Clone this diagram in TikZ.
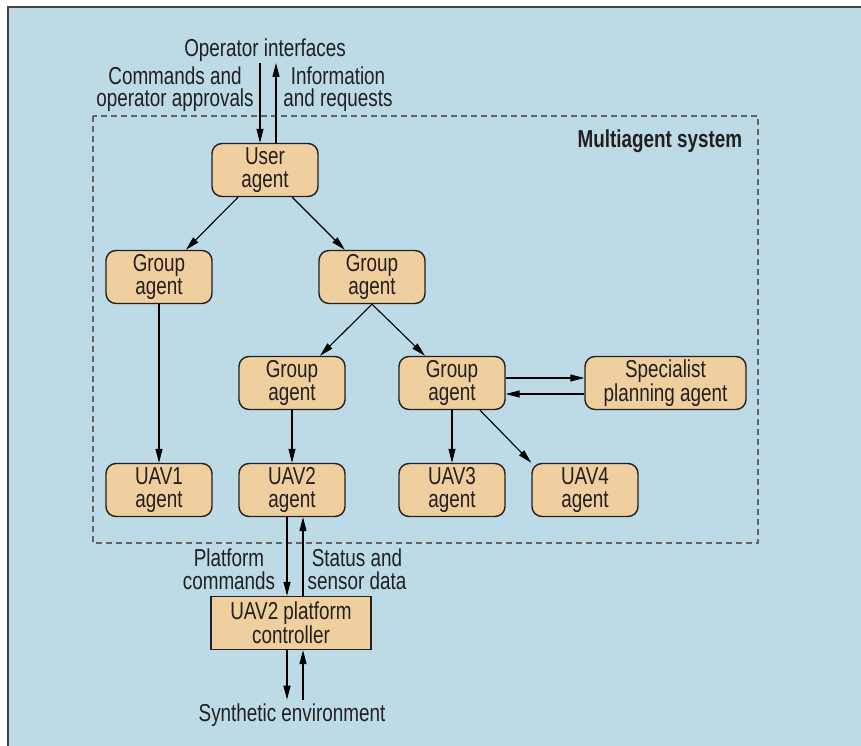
\documentclass[tikz,border=0pt]{standalone}
\usepackage{fontspec}
\setmainfont{Liberation Sans}[FakeStretch=0.77]
\usetikzlibrary{arrows.meta,calc}
\definecolor{panel}{HTML}{BDDBE7}
\definecolor{agentfill}{HTML}{F0CF9E}
\definecolor{ink}{HTML}{231F20}

\begin{document}
\begin{tikzpicture}[
    x = 1pt,
    y = -1pt,
    line width = 1.1pt,
    >={Triangle[length=14pt,width=7pt]},
    every node/.style = {
      text = ink,
      font = \fontsize{24.5}{22.5}\selectfont,
      align = center
    },
    agent/.style = {
      draw = ink,
      fill = agentfill,
      rounded corners = 10pt,
      line width = 1.4pt,
      inner sep = 0pt,
      minimum width = 106pt,
      minimum height = 53pt
    },
    ctrlbox/.style = {
      draw = ink,
      fill = agentfill,
      line width = 1.4pt,
      inner sep = 0pt,
      minimum width = 160pt,
      minimum height = 53pt
    }
  ]
  \useasboundingbox (0,0) rectangle (861,746);

  \fill[panel] (8,7) rectangle (861,746);
  \draw[ink!85, line width=1.6pt] (8,746) -- (8,7) -- (861,7);

  \draw[ink!70, dash pattern=on 6pt off 4pt] (93,116) rectangle (758,543);

  \node[agent] (user) at (265,170) {User\\agent};
  \node[agent] (grpa) at (159,277) {Group\\agent};
  \node[agent] (grpb) at (372,277) {Group\\agent};
  \node[agent] (grpc) at (292,383) {Group\\agent};
  \node[agent] (grpd) at (452,383) {Group\\agent};
  \node[agent, minimum width=161pt] (spec) at (665.5,383) {Specialist\\planning agent};
  \node[agent] (uav1) at (159,490) {UAV1\\agent};
  \node[agent] (uav2) at (292,490) {UAV2\\agent};
  \node[agent] (uav3) at (452,490) {UAV3\\agent};
  \node[agent] (uav4) at (585,490) {UAV4\\agent};
  \node[ctrlbox] (ctrl) at (291,623) {UAV2 platform\\controller};

  \node (opif) at (265,50) {Operator interfaces};
  \node (cmds) at (175,89) {Commands and\\operator approvals};
  \node (info) at (338,89) {Information\\and requests};
  \node[anchor=east, font=\bfseries\fontsize{24.5}{22.5}\selectfont] (mas) at (746,141) {Multiagent system};
  \node (pcmd) at (229,569) {Platform\\commands};
  \node (stat) at (357,569) {Status and\\sensor data};
  \node (synth) at (292,715) {Synthetic environment};

  \coordinate (opdown) at (260,63);
  \coordinate (opup) at (276,63);
  \coordinate (dnx) at (287,0);
  \coordinate (upx) at (303,0);

  \draw[->] (opdown) -- (opdown |- user.north);
  \draw[->] (opup |- user.north) -- (opup);

  \draw[->] (user) -- (grpa);
  \draw[->] (user) -- (grpb);
  \draw[->] (grpa) -- (uav1);
  \draw[->] (grpb.south) -- ($(grpc.north)+(28,0)$);
  \draw[->] (grpb.south) -- ($(grpd.north)+(-27,0)$);
  \draw[->] (grpc) -- (uav2);
  \draw[->] (grpd) -- (uav3);
  \draw[->] ($(grpd.south)+(28,0)$) -- (uav4.north west);
  \draw[->] ($(grpd.east)+(0,-5)$) -- ($(spec.west)+(0,-5)$);
  \draw[->] ($(spec.west)+(0,11)$) -- ($(grpd.east)+(0,11)$);

  \draw[->] (dnx |- uav2.south) -- (dnx |- ctrl.north);
  \draw[->] (upx |- ctrl.north) -- (upx |- uav2.south);
  \draw[->] (dnx |- ctrl.south) -- (dnx |- synth.north);
  \draw[->] (upx |- synth.north) -- (upx |- ctrl.south);

\end{tikzpicture}
\end{document}
